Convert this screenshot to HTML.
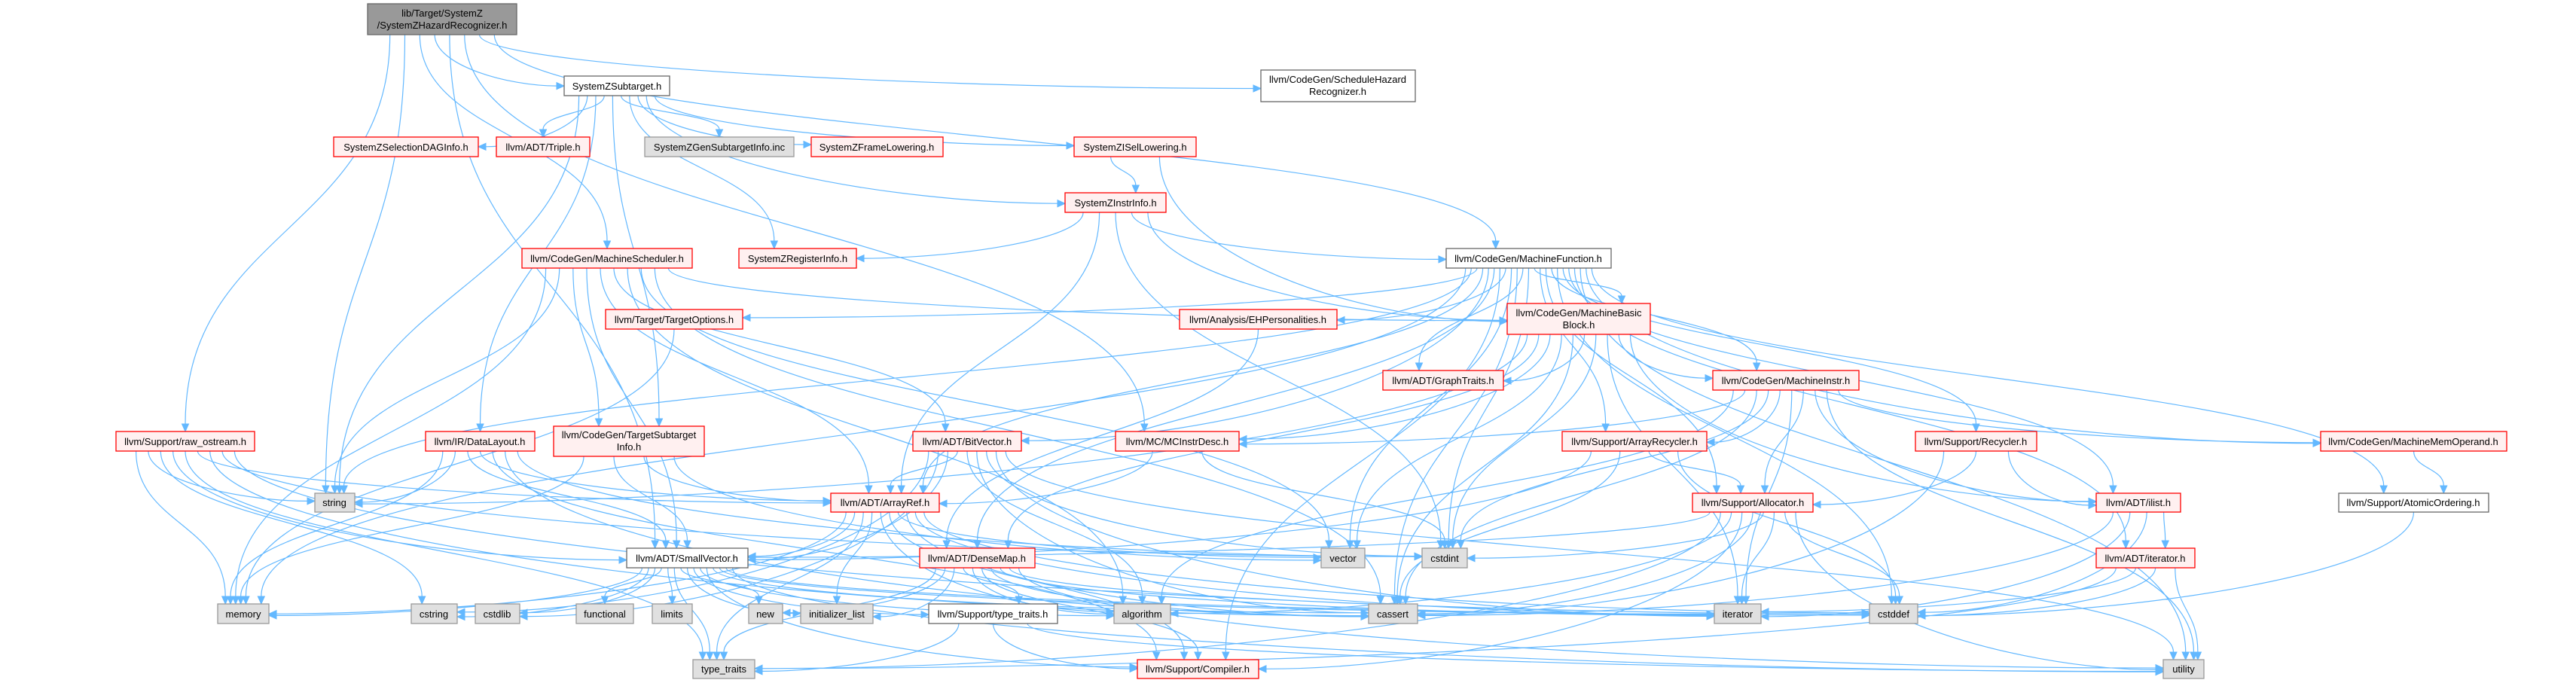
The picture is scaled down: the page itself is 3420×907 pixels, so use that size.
<!DOCTYPE html>
<html><head><meta charset="utf-8">
<style>
html,body{margin:0;padding:0;background:#fff;}
svg{display:block;}
text{font-family:"Liberation Sans",Arial,sans-serif;font-size:13px;fill:#000;text-anchor:middle;}
.r{fill:#FFF0F0;stroke:#FF0000;stroke-width:1.3;}
.g{fill:#E0E0E0;stroke:#999999;stroke-width:1.3;}
.w{fill:#FFFFFF;stroke:#666666;stroke-width:1.3;}
.k{fill:#999999;stroke:#666666;stroke-width:1.3;}
</style></head>
<body>
<svg id="s" width="3420" height="907" viewBox="0 0 3420 907" xmlns="http://www.w3.org/2000/svg">
<g id="edges" fill="none" stroke="#63B8FF" stroke-width="1.2"></g>
<g id="heads" fill="#63B8FF" stroke="#63B8FF" stroke-width="1"></g>
<g id="nodes">
<rect class="k" x="488" y="5" width="198" height="41"/><text x="587" y="22">lib/Target/SystemZ</text><text x="587" y="38">/SystemZHazardRecognizer.h</text>
<rect class="w" x="749" y="101" width="140" height="26"/><text x="819" y="119">SystemZSubtarget.h</text>
<rect class="r" x="443" y="182" width="192" height="26"/><text x="539" y="200">SystemZSelectionDAGInfo.h</text>
<rect class="r" x="659" y="182" width="124" height="26"/><text x="721" y="200">llvm/ADT/Triple.h</text>
<rect class="g" x="856" y="182" width="198" height="26"/><text x="955" y="200">SystemZGenSubtargetInfo.inc</text>
<rect class="r" x="1077" y="182" width="175" height="26"/><text x="1164" y="200">SystemZFrameLowering.h</text>
<rect class="r" x="1426" y="182" width="162" height="26"/><text x="1507" y="200">SystemZISelLowering.h</text>
<rect class="w" x="1674" y="93" width="205" height="42"/><text x="1776" y="110">llvm/CodeGen/ScheduleHazard</text><text x="1776" y="126">Recognizer.h</text>
<rect class="r" x="1414" y="256" width="134" height="26"/><text x="1481" y="274">SystemZInstrInfo.h</text>
<rect class="r" x="693" y="330" width="226" height="26"/><text x="806" y="348">llvm/CodeGen/MachineScheduler.h</text>
<rect class="r" x="981" y="330" width="156" height="26"/><text x="1059" y="348">SystemZRegisterInfo.h</text>
<rect class="w" x="1920" y="330" width="219" height="26"/><text x="2029" y="348">llvm/CodeGen/MachineFunction.h</text>
<rect class="r" x="804" y="411" width="182" height="26"/><text x="895" y="429">llvm/Target/TargetOptions.h</text>
<rect class="r" x="1566" y="411" width="209" height="26"/><text x="1670" y="429">llvm/Analysis/EHPersonalities.h</text>
<rect class="r" x="2001" y="403" width="190" height="41"/><text x="2096" y="420">llvm/CodeGen/MachineBasic</text><text x="2096" y="436">Block.h</text>
<rect class="r" x="1836" y="492" width="160" height="26"/><text x="1916" y="510">llvm/ADT/GraphTraits.h</text>
<rect class="r" x="2274" y="492" width="194" height="26"/><text x="2371" y="510">llvm/CodeGen/MachineInstr.h</text>
<rect class="r" x="154" y="573" width="184" height="26"/><text x="246" y="591">llvm/Support/raw_ostream.h</text>
<rect class="r" x="565" y="573" width="145" height="26"/><text x="637" y="591">llvm/IR/DataLayout.h</text>
<rect class="r" x="735" y="566" width="200" height="40"/><text x="835" y="582">llvm/CodeGen/TargetSubtarget</text><text x="835" y="598">Info.h</text>
<rect class="r" x="1212" y="573" width="144" height="26"/><text x="1284" y="591">llvm/ADT/BitVector.h</text>
<rect class="r" x="1481" y="573" width="164" height="26"/><text x="1563" y="591">llvm/MC/MCInstrDesc.h</text>
<rect class="r" x="2074" y="573" width="192" height="26"/><text x="2170" y="591">llvm/Support/ArrayRecycler.h</text>
<rect class="r" x="2543" y="573" width="161" height="26"/><text x="2623" y="591">llvm/Support/Recycler.h</text>
<rect class="r" x="3081" y="573" width="247" height="26"/><text x="3204" y="591">llvm/CodeGen/MachineMemOperand.h</text>
<rect class="g" x="418" y="655" width="53" height="25"/><text x="444" y="672">string</text>
<rect class="r" x="1103" y="655" width="144" height="25"/><text x="1175" y="672">llvm/ADT/ArrayRef.h</text>
<rect class="r" x="2247" y="655" width="160" height="25"/><text x="2327" y="672">llvm/Support/Allocator.h</text>
<rect class="r" x="2783" y="655" width="112" height="25"/><text x="2839" y="672">llvm/ADT/ilist.h</text>
<rect class="w" x="3105" y="655" width="199" height="25"/><text x="3204" y="672">llvm/Support/AtomicOrdering.h</text>
<rect class="w" x="832" y="728" width="161" height="26"/><text x="912" y="746">llvm/ADT/SmallVector.h</text>
<rect class="r" x="1221" y="728" width="153" height="26"/><text x="1297" y="746">llvm/ADT/DenseMap.h</text>
<rect class="g" x="1754" y="728" width="58" height="26"/><text x="1783" y="746">vector</text>
<rect class="g" x="1888" y="728" width="60" height="26"/><text x="1918" y="746">cstdint</text>
<rect class="r" x="2783" y="728" width="131" height="26"/><text x="2848" y="746">llvm/ADT/iterator.h</text>
<rect class="g" x="289" y="802" width="68" height="26"/><text x="323" y="820">memory</text>
<rect class="g" x="546" y="802" width="61" height="26"/><text x="576" y="820">cstring</text>
<rect class="g" x="631" y="802" width="59" height="26"/><text x="660" y="820">cstdlib</text>
<rect class="g" x="765" y="802" width="76" height="26"/><text x="803" y="820">functional</text>
<rect class="g" x="866" y="802" width="53" height="26"/><text x="892" y="820">limits</text>
<rect class="g" x="994" y="802" width="45" height="26"/><text x="1016" y="820">new</text>
<rect class="g" x="1063" y="802" width="96" height="26"/><text x="1111" y="820">initializer_list</text>
<rect class="w" x="1233" y="802" width="171" height="26"/><text x="1318" y="820">llvm/Support/type_traits.h</text>
<rect class="g" x="1479" y="802" width="75" height="26"/><text x="1516" y="820">algorithm</text>
<rect class="g" x="1817" y="802" width="65" height="26"/><text x="1849" y="820">cassert</text>
<rect class="g" x="2276" y="802" width="62" height="26"/><text x="2307" y="820">iterator</text>
<rect class="g" x="2482" y="802" width="64" height="26"/><text x="2514" y="820">cstddef</text>
<rect class="g" x="920" y="876" width="82" height="25"/><text x="961" y="893">type_traits</text>
<rect class="r" x="1510" y="876" width="161" height="25"/><text x="1590" y="893">llvm/Support/Compiler.h</text>
<rect class="g" x="2872" y="876" width="54" height="25"/><text x="2899" y="893">utility</text>
</g>
</svg>
<script>
(function(){
var N={
root:[488,5,198,41],sub:[749,101,140,26],sel:[443,182,192,26],tri:[659,182,124,26],gen:[856,182,198,26],
frm:[1077,182,175,26],isel:[1426,182,162,26],shr:[1674,93,205,42],ii:[1414,256,134,26],ms:[693,330,226,26],
ri:[981,330,156,26],mf:[1920,330,219,26],to:[804,411,182,26],eh:[1566,411,209,26],mbb:[2001,403,190,41],
gt:[1836,492,160,26],mi:[2274,492,194,26],ro:[154,573,184,26],dl:[565,573,145,26],tsi:[735,566,200,40],
bv:[1212,573,144,26],mcid:[1481,573,164,26],arec:[2074,573,192,26],rec:[2543,573,161,26],mmo:[3081,573,247,26],
str:[418,655,53,25],ar:[1103,655,144,25],alloc:[2247,655,160,25],il:[2783,655,112,25],ao:[3105,655,199,25],
sv:[832,728,161,26],dm:[1221,728,153,26],vec:[1754,728,58,26],ci:[1888,728,60,26],ith:[2783,728,131,26],
mem:[289,802,68,26],cstr:[546,802,61,26],cstdl:[631,802,59,26],fn:[765,802,76,26],lim:[866,802,53,26],
nw:[994,802,45,26],il2:[1063,802,96,26],tth:[1233,802,171,26],alg:[1479,802,75,26],ca:[1817,802,65,26],
it:[2276,802,62,26],cd:[2482,802,64,26],tt:[920,876,82,25],cmp:[1510,876,161,25],ut:[2872,876,54,25]};
var E={
root:['sub','shr','ms','mf','ro','str','sv','mcid'],
sub:['sel','tri','gen','frm','isel','ii','ri','tsi','dl','str'],
isel:['ii','mbb'],
ii:['ri','mf','mbb','ar','ci'],
ms:['mbb','ar','bv','sv','mem','str','vec','ca','alg','tsi'],
mf:['mbb','eh','to','gt','arec','rec','mi','mmo','ao','il','ith','bv','ar','dm','vec','ci','ca','cd','mem','str','ut','alloc','cmp'],
mbb:['gt','mi','il','mcid','vec','ci','ca','str','it','dm'],
mi:['mcid','mmo','arec','il','alloc','ci','ut','alg','ca','it'],
arec:['alloc','sv','ca','cd'],
rec:['alloc','il','ca'],
alloc:['cmp','cd','ci','ca','it','ut','alg','tt','sv'],
il:['ith','ca','cd','it'],
ith:['cd','it','ut','tt'],
ao:['cd'],mmo:['ao'],
ro:['str','mem','cstr','tt','sv','ar','ci','ca','cd'],
dl:['str','sv','ar','ca','ci','cmp','mem'],
tsi:['mem','sv','ar','vec'],
to:['mem'],
bv:['ar','sv','alg','ca','ci','cstdl','cstr','ut','it'],
mcid:['ar','ci'],
eh:['dm'],
ar:['sv','cmp','alg','ca','cd','il2','it','mem','tt','vec'],
sv:['cmp','tth','alg','ca','cd','cstdl','cstr','fn','il2','it','lim','mem','nw','tt','ut'],
dm:['tth','cmp','alg','ca','cd','il2','it','nw','tt','ut'],
tth:['cmp','tt','ut']};
var out={},inc={},list=[];
for(var s in E){E[s].forEach(function(t){list.push([s,t]);(out[s]=out[s]||[]).push(t);(inc[t]=inc[t]||[]).push(s);});}
function cx(k){var n=N[k];return n[0]+n[2]/2;}
function pos(arr,key,n){var a=arr.slice().sort(function(p,q){return cx(p)-cx(q);});var i=a.indexOf(key);var m=a.length;var w=n[2]*0.8;return n[0]+n[2]*0.1+w*(i+0.5)/m;}
var d='',h='',ns='http://www.w3.org/2000/svg';
list.forEach(function(e){
 var a=N[e[0]],b=N[e[1]];
 var x1=pos(out[e[0]],e[1],a),y1=a[1]+a[3];
 var tx=cx(e[1]),dy=b[1]-y1,dx=tx-x1;
 if(Math.abs(dx)>2.6*dy && dy<260){
  var yc=b[1]+b[3]/2+((x1%7)-3);
  var x2,hx;
  if(dx>0){x2=b[0]-10;hx=b[0];}else{x2=b[0]+b[2]+10;hx=b[0]+b[2];}
  var ddx=x2-x1;
  d+='M'+x1.toFixed(1)+','+y1+' C'+x1.toFixed(1)+','+(y1+(yc-y1)*0.6).toFixed(1)+' '+(x2-ddx*0.4).toFixed(1)+','+yc.toFixed(1)+' '+x2.toFixed(1)+','+yc.toFixed(1)+' ';
  h+='M'+x2.toFixed(1)+','+(yc-4.5).toFixed(1)+' L'+x2.toFixed(1)+','+(yc+4.5).toFixed(1)+' L'+hx.toFixed(1)+','+yc.toFixed(1)+' Z ';
 } else {
  var x2=pos(inc[e[1]],e[0],b),y2=b[1]-10,dd=y2-y1;
  d+='M'+x1.toFixed(1)+','+y1+' C'+x1.toFixed(1)+','+(y1+dd*0.5).toFixed(1)+' '+x2.toFixed(1)+','+(y2-dd*0.5).toFixed(1)+' '+x2.toFixed(1)+','+y2+' ';
  h+='M'+(x2-4.5).toFixed(1)+','+y2+' L'+(x2+4.5).toFixed(1)+','+y2+' L'+x2.toFixed(1)+','+(y2+10)+' Z ';
 }
});
var p=document.createElementNS(ns,'path');p.setAttribute('d',d);document.getElementById('edges').appendChild(p);
var q=document.createElementNS(ns,'path');q.setAttribute('d',h);document.getElementById('heads').appendChild(q);
})();
</script>
</body></html>
